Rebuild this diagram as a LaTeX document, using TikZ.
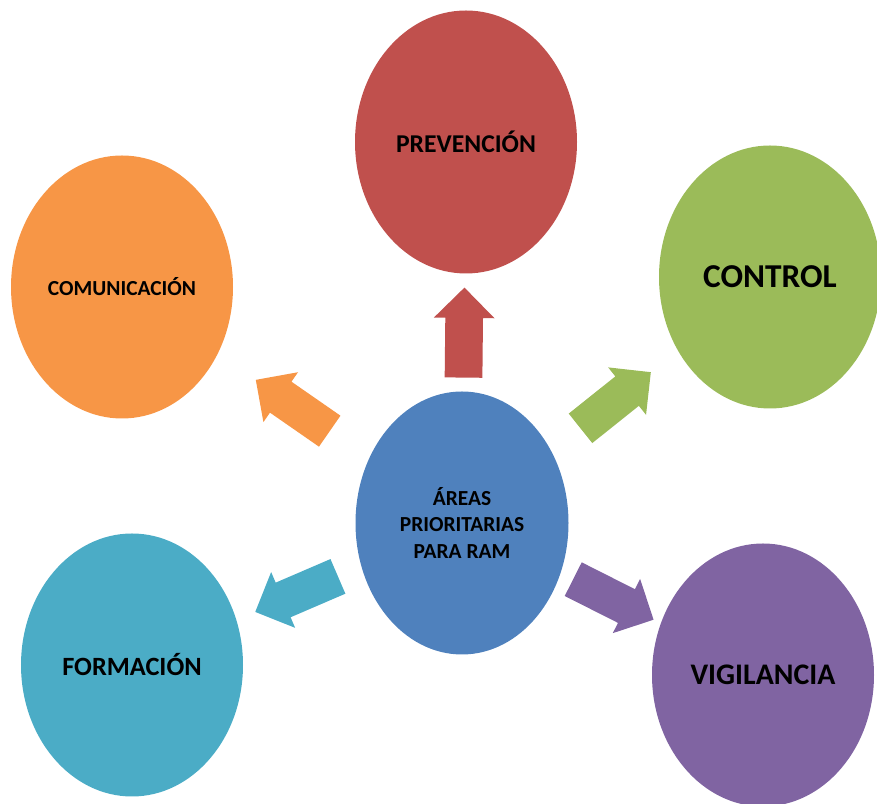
\documentclass[tikz,border=0pt]{standalone}
\usepackage{fontspec}
\setmainfont{Carlito}
\usetikzlibrary{shapes.geometric, shapes.arrows, positioning}
\definecolor{offred}{HTML}{C0504D}
\definecolor{offorange}{HTML}{F79646}
\definecolor{offgreen}{HTML}{9BBB59}
\definecolor{offblue}{HTML}{4F81BD}
\definecolor{offteal}{HTML}{4BACC6}
\definecolor{offpurple}{HTML}{8064A2}

\begin{document}
\begin{tikzpicture}[
  area/.style={ellipse, minimum width=4.44cm, minimum height=5.26cm, inner sep=0pt, align=center, font=\bfseries},
  blockarrow/.style={single arrow, minimum height=1.8cm, minimum width=1.2cm, single arrow head extend=0.23cm, inner xsep=0pt, inner ysep=0.37cm, sloped, allow upside down, pos=0.475}
]
  \useasboundingbox (0,0) rectangle (17.54,16.08);
  \node[area, fill=offblue, minimum width=4.26cm, font=\bfseries\fontsize{12.2}{14.8}\selectfont] (core) at (9.24,5.62) {ÁREAS\\PRIORITARIAS\\PARA RAM};
  \node[area, fill=offred, font=\bfseries\fontsize{14.6}{17}\selectfont] (prev) at (9.32,13.24) {PREVENCIÓN};
  \node[area, fill=offorange, font=\bfseries\fontsize{12.2}{14}\selectfont] (comu) at (2.44,10.34) {COMUNICACIÓN};
  \node[area, fill=offgreen, font=\bfseries\fontsize{19}{22}\selectfont] (ctrl) at (15.40,10.54) {CONTROL};
  \node[area, fill=offteal, font=\bfseries\fontsize{15}{18}\selectfont] (form) at (2.64,2.78) {FORMACIÓN};
  \node[area, fill=offpurple, font=\bfseries\fontsize{17}{20}\selectfont] (vigi) at (15.26,2.58) {VIGILANCIA};

  \path (core.center) -- node[blockarrow, fill=offred] {} (prev.center);
  \path (core.center) -- node[blockarrow, fill=offorange] {} (comu.center);
  \path (core.center) -- node[blockarrow, fill=offgreen] {} (ctrl.center);
  \path (core.center) -- node[blockarrow, fill=offteal] {} (form.center);
  \path (core.center) -- node[blockarrow, fill=offpurple] {} (vigi.center);
\end{tikzpicture}
\end{document}
